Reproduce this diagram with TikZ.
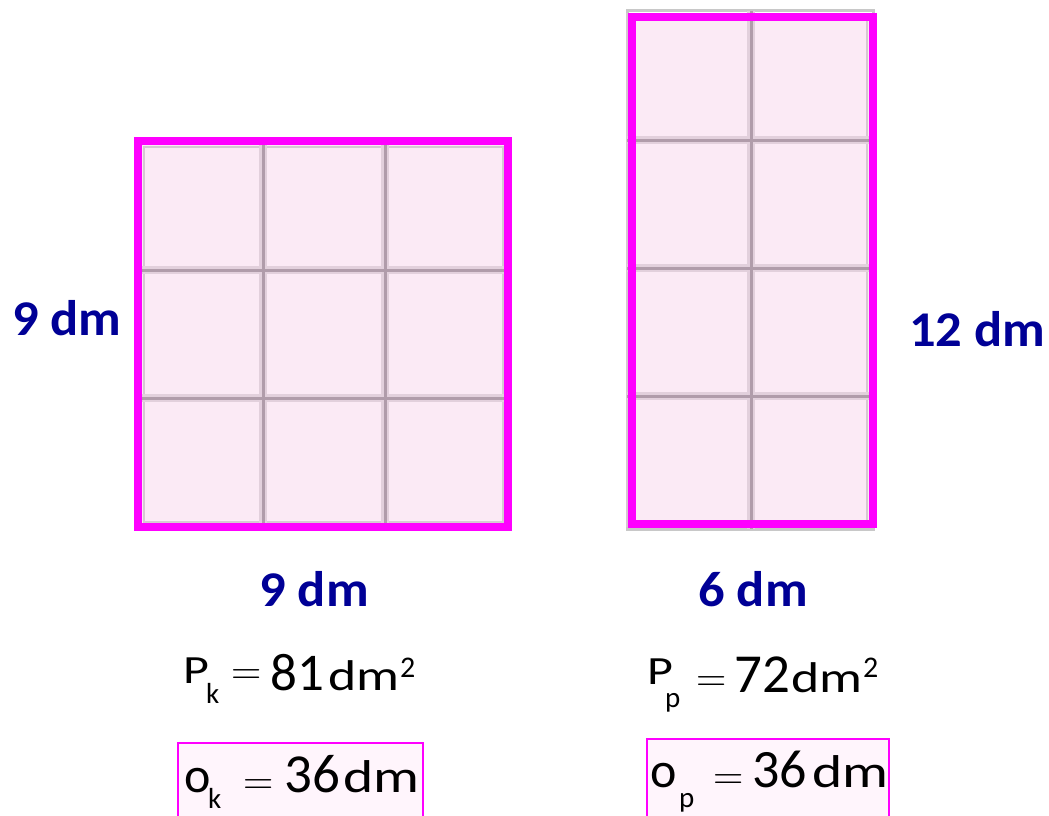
\documentclass[tikz,border=0pt]{standalone}
\usepackage{fontspec}
\setmainfont{Carlito}
\newfontfamily\fwide[FakeStretch=1.25]{Carlito}
\newfontfamily\lwide[FakeStretch=1.05]{Carlito}
\newfontfamily\lmrom{Latin Modern Roman}
\definecolor{mag}{RGB}{255,0,255}
\definecolor{tile}{RGB}{251,234,245}
\definecolor{gridc}{RGB}{176,156,170}
\definecolor{halo}{RGB}{226,208,220}
\definecolor{edge}{RGB}{214,200,210}
\definecolor{lblue}{RGB}{0,0,150}
\definecolor{boxfill}{RGB}{255,245,252}
\begin{document}
\begin{tikzpicture}[x=1pt,y=-1pt,
  lbl/.style={font=\lwide\fontsize{50}{50}\selectfont\bfseries, text=lblue, inner sep=0pt, anchor=base},
  bigP/.style={font=\fwide\fontsize{40}{40}\selectfont, inner sep=0pt, anchor=base west},
  sub/.style={font=\fontsize{29}{29}\selectfont, inner sep=0pt, anchor=base west},
  eqs/.style={font=\lmrom\fontsize{42}{42}\selectfont, inner sep=0pt, anchor=base west},
  num/.style={font=\fontsize{#1}{#1}\selectfont, inner sep=0pt, anchor=base west},
  unit/.style={font=\fwide\fontsize{#1}{#1}\selectfont, inner sep=0pt, anchor=base west},
  supn/.style={font=\fontsize{30}{30}\selectfont, inner sep=0pt, anchor=base west},
  small o/.style={font=\fontsize{50}{50}\selectfont, inner sep=0pt, anchor=base west},
  resbox/.style={draw=mag, line width=1.5pt, fill=boxfill, inner sep=0pt, anchor=north west},
  frame/.style={draw=mag, line width=8pt},
  gline/.style={draw=gridc, line width=3pt},
  hline/.style={draw=halo, line width=8pt},
]
\clip (0,0) rectangle (1049,816);
\fill[white] (0,0) rectangle (1049,816);

% ---------- left square ----------
\fill[tile] (138,141) rectangle (508,527);
\draw[edge, line width=2pt] (144,147) rectangle (503,522);
\foreach \x in {263,385} { \draw[hline] (\x,141) -- (\x,527); }
\foreach \y in {270,398} { \draw[hline] (138,\y) -- (508,\y); }
\foreach \x in {263,385} { \draw[gline] (\x,141) -- (\x,527); }
\foreach \y in {270,398} { \draw[gline] (138,\y) -- (508,\y); }
\draw[frame] (138,141) rectangle (508,527);

% ---------- right rectangle ----------
\draw[draw={rgb,255:red,200;green,200;blue,200}, line width=3pt] (627,11) rectangle (873,529);
\fill[tile] (632,17) rectangle (873,524);
\draw[edge, line width=2pt] (627,13) -- (627,527);
\draw[edge, line width=2pt] (867,20) -- (867,520);
\draw[hline] (751,11) -- (751,529);
\foreach \y in {140,268,396} { \draw[hline] (627,\y) -- (873,\y); }
\draw[gline] (751,11) -- (751,529);
\foreach \y in {140,268,396} { \draw[gline] (627,\y) -- (873,\y); }
\draw[frame] (632,17) rectangle (873,524);

% ---------- dimension labels ----------
\node[lbl] (lside) at (67,335) {9 dm};
\node[lbl] (rside) at (977,346) {12 dm};
\node[lbl] (lbot) at (314,606) {9 dm};
\node[lbl] (rbot) at (753,606) {6 dm};

% ---------- left formulas ----------
\node[bigP] (pk) at (183,683) {P};
\node[sub] (pks) at (206,703) {k};
\node[eqs] (pke) at (231,684.5) {=};
\node[num=53] (pkn) at (270,690) {81};
\node[unit=43] (pku) at (328,690) {dm};
\node[supn] (pk2) at (400,677) {2};

\node[resbox, minimum width=245pt, minimum height=90pt] (bk) at (177,742) {};
\node[small o] (ok) at (184,792) {o};
\node[sub] (oks) at (208,808) {k};
\node[eqs] (oke) at (243,794.5) {=};
\node[num=55] (okn) at (284,792) {36};
\node[unit=46] (oku) at (343,792) {dm};

% ---------- right formulas ----------
\node[bigP] (pp) at (647,684) {P};
\node[sub] (pps) at (665,707) {p};
\node[eqs] (ppe) at (696,691.5) {=};
\node[num=55] (ppn) at (734,692) {72};
\node[unit=43] (ppu) at (791,692) {dm};
\node[supn] (pp2) at (863,677) {2};

\node[resbox, minimum width=242pt, minimum height=90pt] (bp) at (646,738) {};
\node[small o] (op) at (650,787) {o};
\node[sub] (ops) at (679,807) {p};
\node[eqs] (ope) at (713,789.5) {=};
\node[num=54] (opn) at (752,787) {36};
\node[unit=46] (opu) at (812,787) {dm};
\end{tikzpicture}
\end{document}
